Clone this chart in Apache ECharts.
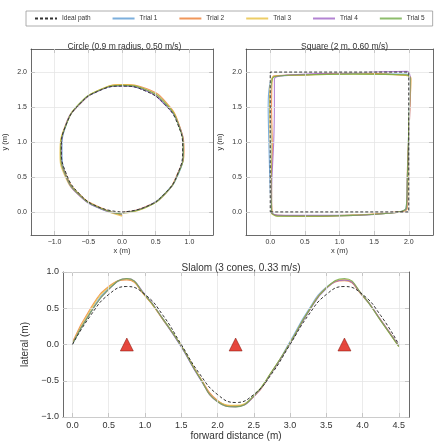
<!DOCTYPE html>
<html><head><meta charset="utf-8">
<script src="https://cdn.jsdelivr.net/npm/echarts@6/dist/echarts.min.js"></script>
<style>html,body{margin:0;padding:0;background:#fff}#c{width:438px;height:444px}</style>
</head><body><div id="c"></div>
<script>
const trialNames = ['Trial 1','Trial 2','Trial 3','Trial 4','Trial 5'];
const trialColors = ['#5b9bd5','#ed7d31','#e8c040','#a064c8','#70ad47'];

const circleIdeal = [[0,0],[0.344,0.069],[0.636,0.264],[0.831,0.556],[0.9,0.9],[0.831,1.244],[0.636,1.536],[0.344,1.731],[0,1.8],[-0.344,1.731],[-0.636,1.536],[-0.831,1.244],[-0.9,0.9],[-0.831,0.556],[-0.636,0.264],[-0.344,0.069],[0,0]];
const circleTrials = [
 [[0,-0.02],[0.35,0.07],[0.64,0.27],[0.84,0.55],[0.91,0.88],[0.84,1.25],[0.64,1.54],[0.34,1.74],[0,1.80],[-0.35,1.73],[-0.64,1.53],[-0.83,1.24],[-0.89,0.88],[-0.83,0.53],[-0.63,0.24],[-0.33,0.05],[0,-0.04]],
 [[0,-0.01],[0.34,0.07],[0.64,0.26],[0.83,0.56],[0.92,0.86],[0.85,1.24],[0.67,1.55],[0.37,1.76],[0.02,1.82],[-0.34,1.74],[-0.63,1.54],[-0.83,1.25],[-0.91,0.86],[-0.84,0.55],[-0.64,0.26],[-0.34,0.07],[0.01,-0.05]],
 [[0,-0.02],[0.35,0.06],[0.65,0.27],[0.84,0.57],[0.91,0.85],[0.84,1.26],[0.65,1.55],[0.35,1.75],[0.01,1.82],[-0.35,1.74],[-0.64,1.54],[-0.84,1.24],[-0.92,0.84],[-0.85,0.52],[-0.65,0.25],[-0.34,0.06],[0,-0.06]],
 [[0,-0.01],[0.35,0.07],[0.65,0.27],[0.83,0.55],[0.91,0.87],[0.84,1.25],[0.64,1.53],[0.34,1.74],[0,1.80],[-0.35,1.73],[-0.64,1.53],[-0.84,1.23],[-0.90,0.84],[-0.83,0.50],[-0.63,0.23],[-0.33,0.05],[0,-0.03]],
 [[0,-0.01],[0.34,0.06],[0.64,0.26],[0.84,0.56],[0.91,0.86],[0.84,1.24],[0.65,1.55],[0.35,1.75],[0.01,1.81],[-0.34,1.74],[-0.64,1.54],[-0.83,1.24],[-0.91,0.87],[-0.84,0.53],[-0.64,0.25],[-0.34,0.06],[0,-0.03]]
];

const squareIdeal = [[0,0],[2,0],[2,2],[0,2],[0,0]];
const squareTrials = [
 [[0.02,-0.02],[0.1,-0.05],[0.6,-0.06],[1.2,-0.05],[1.7,-0.02],[1.96,0.05],[1.98,0.5],[2.0,1.2],[2.02,1.9],[1.97,1.97],[1.2,1.98],[0.5,1.96],[0.05,1.93],[-0.03,1.5],[-0.02,1.0],[0.0,0.3],[0.02,-0.02]],
 [[0.03,-0.03],[0.12,-0.05],[0.6,-0.06],[1.2,-0.05],[1.7,-0.01],[1.97,0.04],[1.98,0.6],[2.01,1.3],[2.03,1.92],[1.95,1.95],[1.2,1.99],[0.5,1.96],[0.04,1.94],[0.02,1.5],[0.03,0.9],[0.01,0.3],[0.03,-0.03]],
 [[0.02,-0.03],[0.1,-0.06],[0.6,-0.06],[1.2,-0.04],[1.7,-0.02],[1.98,0.05],[1.99,0.5],[2.0,1.2],[2.03,1.9],[1.96,1.96],[1.2,1.97],[0.5,1.96],[0.04,1.93],[-0.01,1.6],[0.0,1.0],[0.02,0.3],[0.02,-0.03]],
 [[0.02,-0.02],[0.1,-0.05],[0.6,-0.05],[1.2,-0.05],[1.7,-0.02],[1.97,0.05],[1.98,0.5],[2.01,1.3],[2.02,1.92],[1.98,2.01],[1.2,1.99],[0.5,1.97],[0.06,1.9],[0.06,1.5],[0.05,1.0],[0.02,0.3],[0.02,-0.02]],
 [[0.02,-0.02],[0.1,-0.06],[0.6,-0.06],[1.2,-0.05],[1.7,-0.02],[1.96,0.05],[1.98,0.5],[2.0,1.2],[2.02,1.92],[1.96,1.96],[1.2,1.97],[0.5,1.96],[0.05,1.93],[0.0,1.5],[0.01,1.0],[0.01,0.3],[0.02,-0.02]]
];

const slalomX = [0,0.25,0.5,0.75,1.0,1.25,1.5,1.75,2.0,2.25,2.5,2.75,3.0,3.25,3.5,3.75,4.0,4.25,4.5];
const slalomIdeal = [0,0.40,0.69,0.80,0.69,0.40,0,-0.40,-0.69,-0.80,-0.69,-0.40,0,0.40,0.69,0.80,0.69,0.40,0];
const slalomTrials = [
 [0,0.45,0.77,0.90,0.68,0.34,-0.03,-0.45,-0.78,-0.85,-0.71,-0.38,0.04,0.47,0.79,0.89,0.67,0.33,-0.02],
 [0.03,0.50,0.80,0.89,0.67,0.34,-0.02,-0.44,-0.77,-0.85,-0.72,-0.38,0.02,0.45,0.78,0.88,0.67,0.34,-0.02],
 [0.01,0.48,0.79,0.90,0.68,0.35,-0.02,-0.45,-0.78,-0.84,-0.71,-0.37,0.02,0.45,0.78,0.90,0.68,0.33,-0.03],
 [0.01,0.44,0.76,0.91,0.69,0.35,-0.03,-0.46,-0.79,-0.86,-0.72,-0.38,0.01,0.44,0.77,0.89,0.68,0.34,-0.02],
 [0.01,0.44,0.76,0.91,0.68,0.35,-0.02,-0.45,-0.79,-0.86,-0.71,-0.37,0.02,0.45,0.78,0.91,0.68,0.33,-0.03]
];
const conesX = [0.75,2.25,3.75];
const conesY = [0,0,0];

const xTicks = [[-1,-0.5,0,0.5,1],[0,0.5,1,1.5,2],[0,0.5,1,1.5,2,2.5,3,3.5,4,4.5]];
const yTicks = [[0,0.5,1,1.5,2],[0,0.5,1,1.5,2],[-1,-0.5,0,0.5,1]];

const chart = echarts.init(document.getElementById('c'));
const grids = [
 {left:26, top:49, width:187, height:186},
 {left:246, top:49, width:187, height:186},
 {left:63, top:272, width:346, height:145}
];
const ranges = [
 {x:[-1.35,1.35], y:[-0.33,2.33]},
 {x:[-0.35,2.35], y:[-0.33,2.33]},
 {x:[-0.13,4.64], y:[-1,1]}
];
const txt = '#333';
const fmt = v=>Number(v).toFixed(1).replace('-','\u2212');
const xAxis = [], yAxis = [];
ranges.forEach((r,i)=>{
  const big = i===2;
  const fs = big?9:7;
  const line = {show:true,onZero:false,lineStyle:{color:'#444',width:0.8}};
  const mk = (ticks, extra) => Object.assign({type:'value', gridIndex:i, axisLine:line,
    axisTick:{show:true,inside:true,length:4,lineStyle:{color:'#444'},customValues:ticks},
    splitLine:{show:false}}, extra);
  xAxis.push(mk(xTicks[i], {min:r.x[0], max:r.x[1], position:'bottom',
    name: big?'forward distance (m)':'x (m)', nameLocation:'middle', nameGap: big?14:11,
    nameTextStyle:{fontSize: big?10:7.5, color:txt},
    axisLabel:{fontSize:fs,color:txt,margin:4,customValues:xTicks[i],formatter:fmt}}));
  xAxis.push(mk(xTicks[i], {min:r.x[0], max:r.x[1], position:'top', axisLabel:{show:false}}));
  yAxis.push(mk(yTicks[i], {min:r.y[0], max:r.y[1], position:'left',
    name: big?'lateral (m)':'y (m)', nameLocation:'middle', nameGap: big?30:22,
    nameTextStyle:{fontSize: big?10:7.5, color:txt},
    axisLabel:{fontSize:fs,color:txt,margin:4,customValues:yTicks[i],formatter:fmt}}));
  yAxis.push(mk(yTicks[i], {min:r.y[0], max:r.y[1], position:'right', axisLabel:{show:false}}));
});

const series = [];
function gridLines(gi){
  return {silent:true, symbol:'none', label:{show:false}, animation:false,
    lineStyle:{color:'#e6e6e6',width:0.8,type:'solid'},
    data: xTicks[gi].map(v=>({xAxis:v})).concat(yTicks[gi].map(v=>({yAxis:v})))};
}
function idealSeries(data, gi, smooth){
  series.push({name:'Ideal path', type:'line', xAxisIndex:gi*2, yAxisIndex:gi*2, data, smooth, symbol:'none', z:5,
    lineStyle:{color:'#333',type:[3,2],width:1}, itemStyle:{color:'#555'}});
  series.push({type:'line', xAxisIndex:gi*2, yAxisIndex:gi*2, data:[], z:0, markLine:gridLines(gi)});
}
function trialSeries(list, gi, smooth){
  list.forEach((d,k)=>series.push({name:trialNames[k], type:'line', xAxisIndex:gi*2, yAxisIndex:gi*2, data:d, smooth, symbol:'none',
    lineStyle:{color:trialColors[k],width:1.1,opacity:0.8}, itemStyle:{color:trialColors[k]}}));
}
idealSeries(circleIdeal,0,true); trialSeries(circleTrials,0,true);
idealSeries(squareIdeal,1,false); trialSeries(squareTrials,1,0.3);
const zip = a=>slalomX.map((x,i)=>[x,a[i]]);
idealSeries(zip(slalomIdeal),2,true); trialSeries(slalomTrials.map(zip),2,true);
series.push({type:'scatter', xAxisIndex:4, yAxisIndex:4, data:conesX.map((x,i)=>[x,conesY[i]]), symbol:'triangle', symbolSize:13,
  itemStyle:{color:'#e0190c',borderColor:'#7a0a00',borderWidth:0.6}, z:10});

chart.setOption({
  animation:false,
  title:[
    {text:'Circle (0.9 m radius, 0.50 m/s)', left:119.5, top:37, textAlign:'center', textStyle:{fontSize:8.5,fontWeight:'normal',color:txt}},
    {text:'Square (2 m, 0.60 m/s)', left:339.5, top:37, textAlign:'center', textStyle:{fontSize:8.5,fontWeight:'normal',color:txt}},
    {text:'Slalom (3 cones, 0.33 m/s)', left:236, top:258, textAlign:'center', textStyle:{fontSize:10,fontWeight:'normal',color:txt}}
  ],
  legend:{data:['Ideal path'].concat(trialNames), left:26, top:11, width:407, padding:[4,8,4,8],
    borderColor:'#999', borderWidth:0.8, itemWidth:22, itemHeight:8, itemGap:21,
    itemStyle:{opacity:0},
    textStyle:{fontSize:6.5,color:txt}},
  grid:grids, xAxis, yAxis, series
});
</script></body></html>
